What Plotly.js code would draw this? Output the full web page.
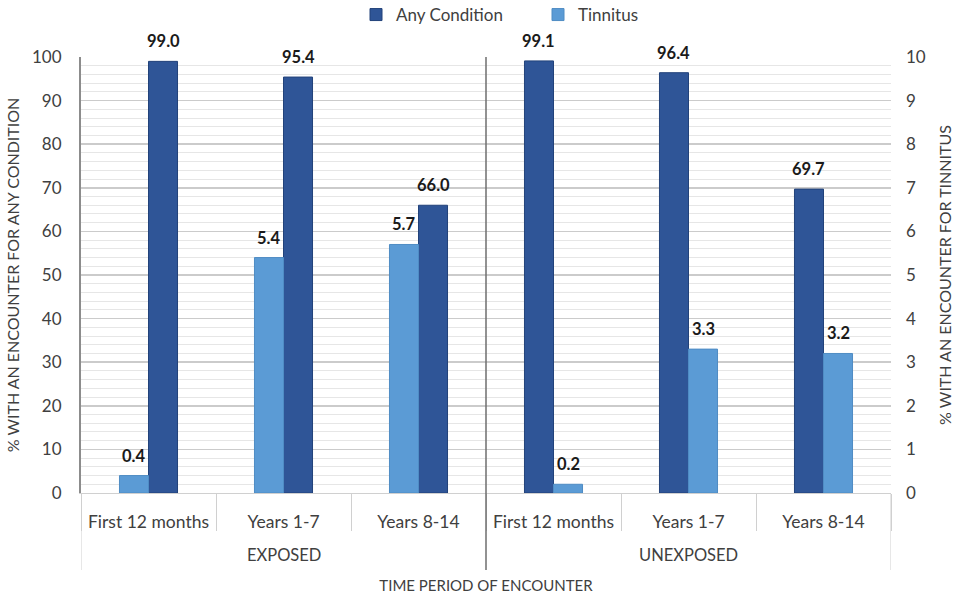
<!DOCTYPE html>
<html>
<head>
<meta charset="utf-8">
<script src="https://cdn.plot.ly/plotly-3.0.1.min.js"></script>
<style>
  html, body { margin: 0; padding: 0; background: #fff; }
  #chart { width: 957px; height: 596px; }
</style>
</head>
<body>
<div id="chart"></div>
<script>
// --- data ---
const groups = ['EXPOSED', 'EXPOSED', 'EXPOSED', 'UNEXPOSED', 'UNEXPOSED', 'UNEXPOSED'];
const periods = ['First 12 months', 'Years 1-7', 'Years 8-14', 'First 12 months', 'Years 1-7', 'Years 8-14'];
const anyCondition = [99.0, 95.4, 66.0, 99.1, 96.4, 69.7];   // left axis, %
const tinnitus = [0.4, 5.4, 5.7, 0.2, 3.3, 3.2];              // right axis, %
// which series sits on the left inside each group (as in the original)
const leftSeries = { EXPOSED: 'tinnitus', UNEXPOSED: 'any' };

const FONT = 'Lato, "Open Sans", sans-serif';
const TXT = '#404040';
const W = 0.215;          // bar width, category units
const PLOT_H = 436;       // plot area height in px (for paper-y conversions)

(function() {
  const idx = periods.map((_, i) => i);
  const anyOffset = groups.map(g => leftSeries[g] === 'any' ? -W : 0);
  const tinOffset = groups.map(g => leftSeries[g] === 'tinnitus' ? -W : 0);

  const traces = [
    {
      name: 'Any Condition', type: 'bar',
      x: idx, y: anyCondition, yaxis: 'y',
      width: W, offset: anyOffset,
      marker: { color: '#2F5597', line: { color: '#22427a', width: 1 } },
      hoverinfo: 'y'
    },
    {
      name: 'Tinnitus', type: 'bar',
      x: idx, y: tinnitus, yaxis: 'y2',
      width: W, offset: tinOffset,
      marker: { color: '#5B9BD5', line: { color: '#4f8cc4', width: 1 } },
      hoverinfo: 'y'
    }
  ];

  const annotations = [];
  const label = (v, i, off, yref) => ({
    x: i + off + W / 2, y: v, xref: 'x', yref: yref,
    text: '<b>' + v.toFixed(1) + '</b>', showarrow: false,
    yanchor: 'bottom', yshift: 8,
    font: { family: FONT, size: 16.5, color: '#1a1a1a' }
  });
  anyCondition.forEach((v, i) => annotations.push(label(v, i, anyOffset[i], 'y')));
  tinnitus.forEach((v, i) => annotations.push(label(v, i, tinOffset[i], 'y2')));

  // group labels + dividers under the axis
  const groupNames = [...new Set(groups)];
  const shapes = [];
  const divBottom = -(570 - 493) / PLOT_H;
  groupNames.forEach((g, k) => {
    const members = idx.filter(i => groups[i] === g);
    const lo = members[0] - 0.5, hi = members[members.length - 1] + 0.5;
    annotations.push({
      x: (lo + hi) / 2, xref: 'x', y: -(555 - 493) / PLOT_H, yref: 'paper',
      text: g, showarrow: false, yanchor: 'middle',
      font: { family: FONT, size: 16.5, color: TXT }
    });
    if (k === 0) {
      shapes.push({ type: 'line', xref: 'x', yref: 'paper', x0: lo, x1: lo, y0: 0, y1: divBottom,
        line: { color: '#cfcfcf', width: 1 } });
    }
    shapes.push(k === groupNames.length - 1
      ? { type: 'line', xref: 'x', yref: 'paper', x0: hi, x1: hi, y0: 0, y1: divBottom,
          line: { color: '#cfcfcf', width: 1 } }
      : { type: 'line', xref: 'x', yref: 'paper', x0: hi, x1: hi, y0: 1, y1: divBottom,
          line: { color: '#6e6e6e', width: 1.5 } });
  });

  const layout = {
    width: 957, height: 596,
    paper_bgcolor: '#fff', plot_bgcolor: '#fff',
    margin: { l: 81, r: 66, t: 57, b: 103 },
    barmode: 'overlay',
    font: { family: FONT, color: TXT },
    showlegend: true,
    legend: {
      orientation: 'h', xanchor: 'left', x: (356 - 81) / 810,
      yref: 'container', y: 1 - 15 / 596, yanchor: 'middle',
      entrywidth: 137, entrywidthmode: 'pixels',
      font: { family: FONT, size: 17, color: TXT }, traceorder: 'normal'
    },
    xaxis: {
      type: 'linear', range: [-0.5, periods.length - 0.5],
      tickvals: idx, ticktext: periods, ticks: '',
      ticklabelstandoff: 13,
      minor: { tick0: -0.5, dtick: 1, ticks: 'outside', ticklen: 37, tickcolor: '#d0d0d0', showgrid: false },
      showline: true, linecolor: '#d0d0d0', linewidth: 1,
      tickfont: { family: FONT, size: 17.5, color: TXT },
      title: { text: 'TIME PERIOD OF ENCOUNTER', font: { family: FONT, size: 15, color: TXT }, standoff: 49 },
      showgrid: false, zeroline: false
    },
    yaxis: {
      range: [0, 100], dtick: 10,
      showline: true, linecolor: '#8c8c8c', linewidth: 2,
      showgrid: true, gridcolor: '#cbcbcb', gridwidth: 1.5,
      minor: { dtick: 2, showgrid: true, gridcolor: '#e6e6e6', gridwidth: 1 },
      zeroline: false, ticks: '',
      ticklabelstandoff: 14,
      tickfont: { family: FONT, size: 17, color: TXT },
      title: { text: '% WITH AN ENCOUNTER FOR ANY CONDITION', font: { family: FONT, size: 16, color: TXT }, standoff: 8 }
    },
    yaxis2: {
      overlaying: 'y', side: 'right',
      range: [0, 10], dtick: 1,
      showgrid: false, zeroline: false, showline: false, ticks: '',
      ticklabelstandoff: 14,
      tickfont: { family: FONT, size: 17, color: TXT },
      title: { text: '% WITH AN ENCOUNTER FOR TINNITUS', font: { family: FONT, size: 16, color: TXT }, standoff: 14 }
    },
    shapes: shapes,
    annotations: annotations
  };

  Plotly.newPlot('chart', traces, layout, { displayModeBar: false, staticPlot: true });
})();
</script>
</body>
</html>
